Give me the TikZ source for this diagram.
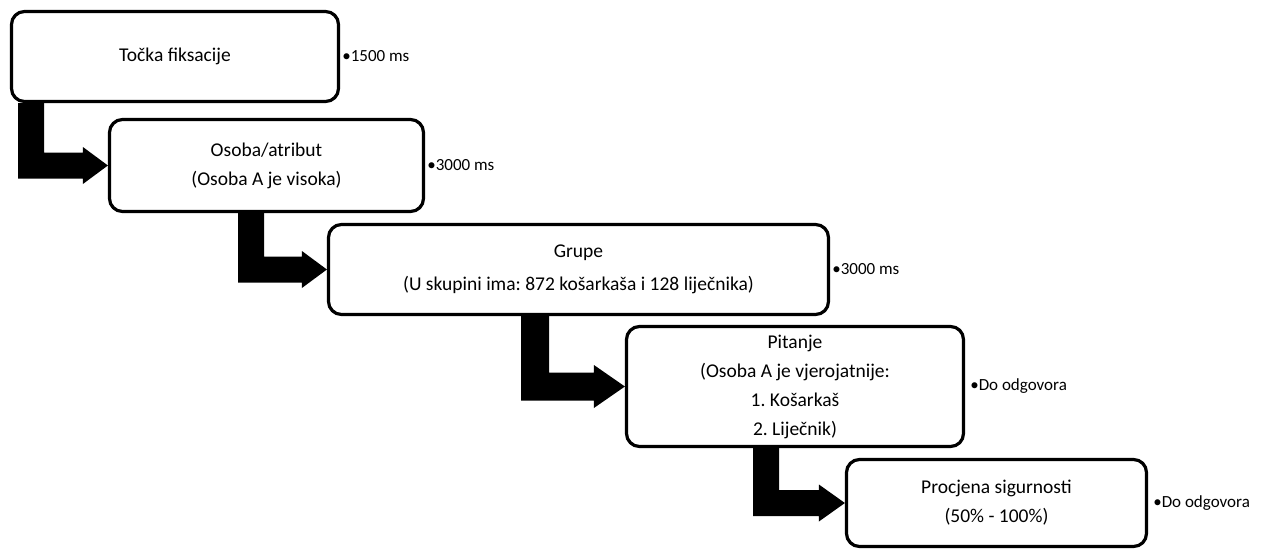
\documentclass[tikz,border=0pt]{standalone}
\usepackage{fontspec}
\setmainfont{Carlito}
\usetikzlibrary{calc}
\frenchspacing
\newcommand\elbowarrow[6]{% #1 source, #2 target, #3 stem-left coordinate, #4 shaft width, #5 head half height, #6 head length
  \fill[black] (#1.south -| #3) -- ++(#4,0) |- ($(#2.west)+(-#6,-#4/2)$)
    -- ($(#2.west)+(-#6,-#5)$) -- (#2.west) -- ($(#2.west)+(-#6,#5)$)
    -- ($(#2.west)+(-#6,#4/2)$) -| (#1.south -| #3) -- cycle;}
\begin{document}
\begin{tikzpicture}[x=1pt,y=-1pt,
  box/.style={draw=black, line width=3.2pt, rounded corners=13pt, fill=white,
    align=center, inner sep=0pt, font=\fontsize{19.5}{29}\selectfont\frenchspacing},
  lbl/.style={anchor=west, inner sep=1pt, font=\fontsize{17}{20}\selectfont}]
\useasboundingbox (0,0) rectangle (1268,551);
\node[box, minimum width=327pt, minimum height=90pt] (b1) at (175,56.5) {Točka fiksacije};
\node[box, minimum width=314pt, minimum height=92pt] (b2) at (266.5,165.5) {Osoba/atribut\\(Osoba A je visoka)};
\node[box, minimum width=500pt, minimum height=90pt] (b3) at (578.5,269.5) {Grupe\\[4pt](U skupini ima: 872 košarkaša i 128 liječnika)};
\node[box, minimum width=337pt, minimum height=120pt] (b4) at (795,386.5) {Pitanje\\(Osoba A je vjerojatnije:\\1. Košarkaš\\2. Liječnik)};
\node[box, minimum width=300pt, minimum height=87pt] (b5) at (996.5,503) {Procjena sigurnosti\\(50\% - 100\%)};
\node[lbl] (l1) at ($(b1.east)+(1,0)$) {•1500 ms};
\node[lbl] (l2) at ($(b2.east)+(1,0)$) {•3000 ms};
\node[lbl] (l3) at ($(b3.east)+(1,0)$) {•3000 ms};
\node[lbl] (l4) at ($(b4.east)+(4,0)$) {•Do odgovora};
\node[lbl] (l5) at ($(b5.east)+(4,0)$) {•Do odgovora};
\coordinate (s1) at (18,0);
\coordinate (s2) at (238,0);
\coordinate (s3) at (521,0);
\coordinate (s4) at (753,0);
\elbowarrow{b1}{b2}{s1}{26}{18.5}{25}
\elbowarrow{b2}{b3}{s2}{26}{18.5}{25}
\elbowarrow{b3}{b4}{s3}{28}{21.5}{31}
\elbowarrow{b4}{b5}{s4}{26}{18.5}{26}
\end{tikzpicture}
\end{document}
